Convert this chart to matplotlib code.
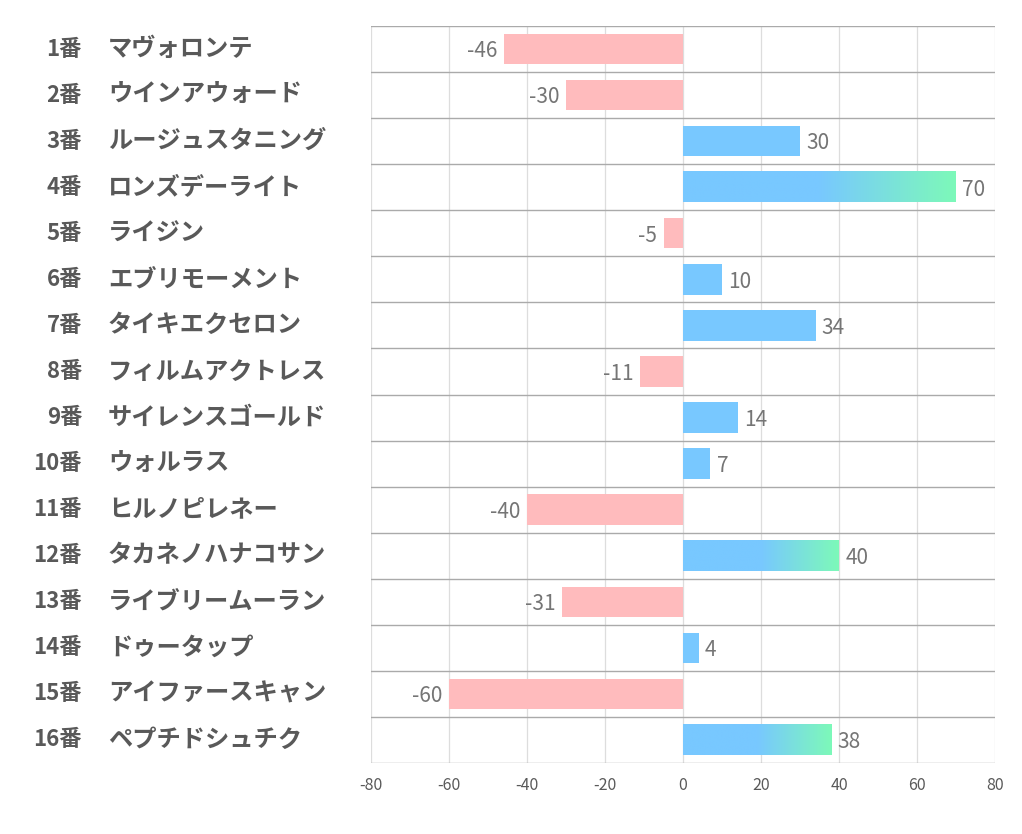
import numpy as np
import matplotlib.pyplot as plt
from matplotlib.colors import LinearSegmentedColormap

plt.rcParams['font.family'] = ['Noto Sans CJK JP', 'DejaVu Sans']

numbers = [f"{i}番" for i in range(1, 17)]
names = ["マヴォロンテ", "ウインアウォード", "ルージュスタニング", "ロンズデーライト",
         "ライジン", "エブリモーメント", "タイキエクセロン", "フィルムアクトレス",
         "サイレンスゴールド", "ウォルラス", "ヒルノピレネー", "タカネノハナコサン",
         "ライブリームーラン", "ドゥータップ", "アイファースキャン", "ペプチドシュチク"]
values = [-46, -30, 30, 70, -5, 10, 34, -11, 14, 7, -40, 40, -31, 4, -60, 38]
gradient_rows = [3, 11, 15]

pink = "#FFBBBD"
blue = "#78C8FF"
green = "#7DF9B9"
# blue for the first half of the bar, then fade to green
cmap = LinearSegmentedColormap.from_list("bg", [(0, blue), (0.5, blue), (1, green)])

fig = plt.figure(figsize=(10.22, 8.34), dpi=100)
ax = fig.add_axes([371/1022, 71/834, 624/1022, 737/834])

h = 0.66
for i, v in enumerate(values):
    col = blue if v > 0 else pink
    if i in gradient_rows:
        grad = np.linspace(0, 1, 512).reshape(1, -1)
        ax.imshow(grad, cmap=cmap, aspect='auto', zorder=3, interpolation='bilinear',
                  extent=[0, v, i + h / 2, i - h / 2])
    else:
        ax.barh(i, v, height=h, color=col, zorder=2)
    if v > 0:
        ax.text(v + 1.6, i + 0.05, str(v), ha='left', va='center',
                fontsize=15, color='#757575', zorder=4)
    else:
        ax.text(v - 1.6, i + 0.05, str(v), ha='right', va='center',
                fontsize=15, color='#757575', zorder=4)

ax.set_xlim(-80, 80)
ax.set_ylim(len(values) - 0.5, -0.5)
ax.set_xticks(np.arange(-80, 81, 20))
ax.set_xticklabels([str(t) for t in range(-80, 81, 20)])
ax.set_yticks([])
for t in range(-80, 81, 20):
    ax.axvline(t, color='#dddddd', lw=0.9, zorder=1)
for b in np.arange(-0.5, len(values), 1):
    ax.axhline(b, color='#aaaaaa', lw=1.0, zorder=1)
for s in ax.spines.values():
    s.set_visible(False)
ax.tick_params(axis='x', length=0, pad=10, labelsize=11.5, labelcolor='#595959')

for i in range(len(values)):
    yf = (834 - (26 + 46.06 * (i + 0.5))) / 834
    fig.text(82/1022, yf, numbers[i], ha='right', va='center', fontsize=16,
             fontweight='bold', color='#595959')
    fig.text(108/1022, yf, names[i], ha='left', va='center', fontsize=17.5,
             fontweight='bold', color='#595959')

fig.savefig("out.png", dpi=100)
